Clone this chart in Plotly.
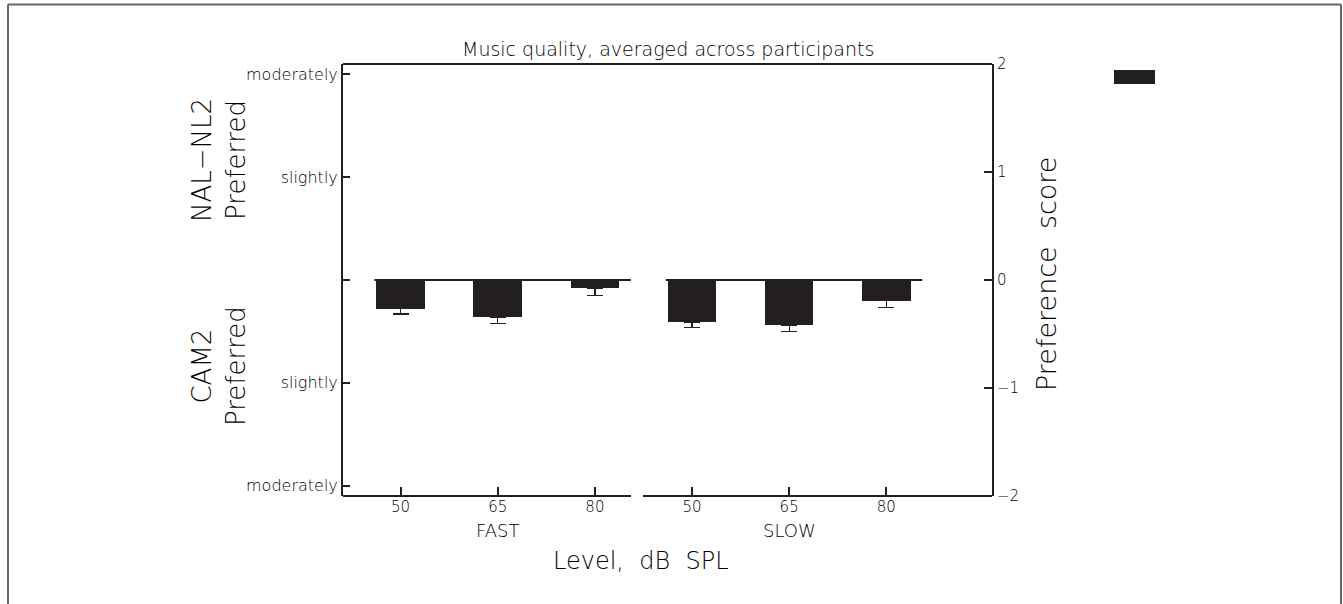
import plotly.graph_objects as go

# ---- data ----
groups = ["FAST", "SLOW"]
levels = ["50", "65", "80"]
scores_fast = [-0.28, -0.36, -0.08]
scores_slow = [-0.41, -0.44, -0.20]
err_fast = [0.05, 0.06, 0.07]
err_slow = [0.05, 0.06, 0.07]
left_tick_vals = [2, 1, 0, -1, -2]
left_tick_text = ["moderately", "slightly", "", "slightly", "moderately"]
right_tick_vals = [2, 1, 0, -1, -2]
right_tick_text = ["2", "1", "0", "\u22121", "\u22122"]
title_text = "Music quality, averaged across participants"

values = scores_fast + scores_slow
errors = err_fast + err_slow
xpos = list(range(len(values)))
ticklabels = levels * len(groups)

FONT = "DejaVu Sans"
INK = "#231f20"
TXT = "#000000"
WT = 200

W, H = 1343, 604
L, R, T, B = 343, 992, 64, 496


def px(p):
    return (p - L) / (R - L)


def py(q):
    return (B - q) / (B - T)


def f(size):
    return dict(size=size, family=FONT, color=TXT, weight=WT)


fig = go.Figure()
fig.add_trace(go.Bar(
    x=xpos, y=values, width=0.5,
    marker=dict(color=INK, line=dict(width=0)),
    error_y=dict(type="data", symmetric=False, array=[0] * len(errors),
                 arrayminus=errors, color=INK, thickness=1.3, width=8),
    showlegend=False,
))
# invisible trace to activate the right axis
fig.add_trace(go.Scatter(x=[xpos[0]], y=[0], yaxis="y2", mode="markers",
                         marker=dict(opacity=0), showlegend=False, hoverinfo="skip"))

shapes = []
# zero baselines per group
n = len(levels)
for g in range(len(groups)):
    x0 = g * n - 0.27
    x1 = g * n + (n - 1) + 0.37
    shapes.append(dict(type="line", xref="x", yref="y", x0=x0, x1=x1, y0=0, y1=0,
                       line=dict(color=INK, width=2)))
# broken bottom axis
shapes.append(dict(type="line", xref="paper", yref="paper", x0=0, x1=px(631), y0=0, y1=0,
                   line=dict(color=INK, width=2)))
shapes.append(dict(type="line", xref="paper", yref="paper", x0=px(643), x1=1, y0=0, y1=0,
                   line=dict(color=INK, width=2)))
# top frame line
shapes.append(dict(type="line", xref="paper", yref="paper", x0=0, x1=1, y0=1, y1=1,
                   line=dict(color=INK, width=2)))
# legend swatch
shapes.append(dict(type="rect", xref="paper", yref="paper", x0=px(1114), x1=px(1155),
                   y0=py(84), y1=py(70), fillcolor=INK, line=dict(width=0)))
# page border
for (x0, x1, y0, y1) in [(8, 8, 4.5, 604), (8, 1341, 4.5, 4.5), (1341, 1341, 4.5, 604)]:
    shapes.append(dict(type="line", xref="paper", yref="paper", x0=px(x0), x1=px(x1),
                       y0=py(y0), y1=py(y1), line=dict(color="#666666", width=2)))

annotations = [
    dict(text=title_text, xref="paper", yref="paper", x=px(668), y=py(49),
         showarrow=False, font=f(19), xanchor="center", yanchor="middle"),
    dict(text="NAL\u2212NL2<br>Preferred", xref="paper", yref="paper", x=px(219), y=py(160),
         showarrow=False, textangle=-90, font=f(26), xanchor="center", yanchor="middle"),
    dict(text="CAM2<br>Preferred", xref="paper", yref="paper", x=px(219), y=py(366),
         showarrow=False, textangle=-90, font=f(26), xanchor="center", yanchor="middle"),
    dict(text="Preference  score", xref="paper", yref="paper", x=px(1046), y=py(274),
         showarrow=False, textangle=-90, font=f(27), xanchor="center", yanchor="middle"),
    dict(text="Level,  dB  SPL", xref="paper", yref="paper", x=px(641), y=py(561),
         showarrow=False, font=f(24), xanchor="center", yanchor="middle"),
]
for g, name in enumerate(groups):
    annotations.append(dict(text=name, xref="x", yref="paper", x=g * n + (n - 1) / 2,
                            y=py(530), showarrow=False, font=f(18),
                            xanchor="center", yanchor="middle"))

fig.update_layout(
    width=W, height=H,
    margin=dict(l=L, r=W - R, t=T, b=H - B, pad=0),
    paper_bgcolor="white", plot_bgcolor="white",
    showlegend=False,
    bargap=0,
    xaxis=dict(range=[-0.593, 6.088], tickvals=xpos, ticktext=ticklabels,
               ticks="inside", ticklen=9, tickwidth=1.5, tickcolor=INK,
               showline=False, showgrid=False, zeroline=False,
               tickfont=f(15)),
    yaxis=dict(range=[-2.1, 2.1], tickvals=left_tick_vals, ticktext=left_tick_text,
               ticks="inside", ticklen=7, tickwidth=1.5, tickcolor=INK,
               showline=True, linecolor=INK, linewidth=2,
               showgrid=False, zeroline=False,
               tickfont=f(16)),
    yaxis2=dict(range=[-2, 2], overlaying="y", side="right",
                tickvals=right_tick_vals, ticktext=right_tick_text,
                ticks="inside", ticklen=8, tickwidth=1.5, tickcolor=INK,
                showline=True, linecolor=INK, linewidth=2,
                showgrid=False, zeroline=False,
                tickfont=f(15)),
    shapes=shapes,
    annotations=annotations,
)

fig.write_html("out.html")
